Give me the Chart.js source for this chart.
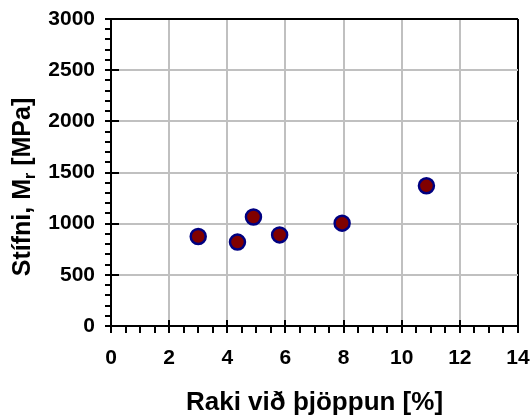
<!DOCTYPE html>
<html>
<head>
<meta charset="utf-8">
<script src="https://cdn.jsdelivr.net/npm/chart.js@4.4.1/dist/chart.umd.min.js"></script>
<style>
  html, body { margin: 0; padding: 0; background: #ffffff; }
  #wrap { width: 532px; height: 416px; }
</style>
</head>
<body>
<div id="wrap"><canvas id="c" width="532" height="416"></canvas></div>
<script>
// ---- data ----
const moisture = [3.0, 4.35, 4.9, 5.8, 7.95, 10.85];      // Raki við þjöppun [%]
const stiffness = [875, 820, 1065, 890, 1005, 1370];       // Stífni, Mr [MPa]
const xTickValues = [0, 2, 4, 6, 8, 10, 12, 14];
const yTickValues = [0, 500, 1000, 1500, 2000, 2500, 3000];
const xMinorStep = 0.5;
const yMinorStep = 100;
const xTitle = 'Raki við þjöppun [%]';
const yTitleParts = ['Stífni, M', 'r', ' [MPa]'];

const FONT = '"Liberation Sans", Arial, sans-serif';

const points = moisture.map((x, i) => ({ x: x, y: stiffness[i] }));

const tickPlugin = {
  id: 'ticksAndTitles',
  afterDraw(chart) {
    const ctx = chart.ctx;
    const xs = chart.scales.x, ys = chart.scales.y;
    const area = chart.chartArea;
    ctx.save();
    ctx.strokeStyle = '#000000';
    ctx.lineWidth = 2;
    ctx.lineCap = 'butt';
    // x ticks
    const xMin = xTickValues[0], xMax = xTickValues[xTickValues.length - 1];
    for (let v = xMin; v <= xMax + 1e-9; v += xMinorStep) {
      const px = Math.round(xs.getPixelForValue(v));
      const major = xTickValues.some(t => Math.abs(t - v) < 1e-9);
      ctx.beginPath();
      ctx.moveTo(px, area.bottom - (major ? 6 : 0));
      ctx.lineTo(px, area.bottom + 7);
      ctx.stroke();
    }
    // y ticks
    const yMin = yTickValues[0], yMax = yTickValues[yTickValues.length - 1];
    for (let v = yMin; v <= yMax + 1e-9; v += yMinorStep) {
      const py = Math.round(ys.getPixelForValue(v));
      const major = yTickValues.some(t => Math.abs(t - v) < 1e-9);
      ctx.beginPath();
      ctx.moveTo(area.left - 6, py);
      ctx.lineTo(area.left + (major ? 8 : 0), py);
      ctx.stroke();
    }
    // x title
    ctx.fillStyle = '#000000';
    ctx.font = 'bold 26px ' + FONT;
    ctx.textAlign = 'center';
    ctx.textBaseline = 'alphabetic';
    ctx.fillText(xTitle, (area.left + area.right) / 2, 410);
    // y title with subscript
    ctx.translate(30, 187);
    ctx.rotate(-Math.PI / 2);
    const mainFont = 'bold 25px ' + FONT;
    const subFont = 'bold 16px ' + FONT;
    ctx.font = mainFont;
    const w0 = ctx.measureText(yTitleParts[0]).width;
    const w2 = ctx.measureText(yTitleParts[2]).width;
    ctx.font = subFont;
    const w1 = ctx.measureText(yTitleParts[1]).width;
    const total = w0 + w1 + w2;
    let cx = -total / 2;
    ctx.textAlign = 'left';
    ctx.font = mainFont;
    ctx.fillText(yTitleParts[0], cx, 0);
    cx += w0;
    ctx.font = subFont;
    ctx.fillText(yTitleParts[1], cx, 5);
    cx += w1;
    ctx.font = mainFont;
    ctx.fillText(yTitleParts[2], cx, 0);
    ctx.restore();
  }
};

function zeroPad(scale) {
  scale.paddingTop = 0; scale.paddingBottom = 0;
  scale.paddingLeft = 0; scale.paddingRight = 0;
}

new Chart(document.getElementById('c'), {
  type: 'scatter',
  data: {
    datasets: [{
      data: points,
      backgroundColor: '#800000',
      borderColor: '#000080',
      borderWidth: 2.5,
      pointRadius: 7.5,
      pointHoverRadius: 7.5
    }]
  },
  options: {
    responsive: false,
    animation: false,
    events: [],
    layout: { padding: { left: 0, top: 19, right: 14, bottom: 0 } },
    plugins: { legend: { display: false }, tooltip: { enabled: false } },
    scales: {
      x: {
        type: 'linear',
        min: xTickValues[0],
        max: xTickValues[xTickValues.length - 1],
        afterBuildTicks(scale) { scale.ticks = xTickValues.map(v => ({ value: v })); },
        afterFit(scale) { scale.height = 90; zeroPad(scale); },
        ticks: {
          color: '#000000',
          font: { family: FONT, size: 21, weight: 'bold' },
          padding: 20,
          maxRotation: 0,
          autoSkip: false,
          callback: v => String(v)
        },
        grid: {
          drawTicks: false,
          lineWidth: 2,
          color: ctx => (ctx.tick && ctx.tick.value === xTickValues[xTickValues.length - 1]) ? '#000000' : '#c0c0c0'
        },
        border: { display: true, color: '#000000', width: 2 }
      },
      y: {
        type: 'linear',
        min: yTickValues[0],
        max: yTickValues[yTickValues.length - 1],
        afterBuildTicks(scale) { scale.ticks = yTickValues.map(v => ({ value: v })); },
        afterFit(scale) { scale.width = 111; zeroPad(scale); },
        ticks: {
          color: '#000000',
          font: { family: FONT, size: 21, weight: 'bold' },
          padding: 16,
          autoSkip: false,
          callback: v => String(v)
        },
        grid: {
          drawTicks: false,
          lineWidth: 2,
          color: ctx => (ctx.tick && ctx.tick.value === yTickValues[yTickValues.length - 1]) ? '#000000' : '#c0c0c0'
        },
        border: { display: true, color: '#000000', width: 2 }
      }
    }
  },
  plugins: [tickPlugin]
});
</script>
</body>
</html>
